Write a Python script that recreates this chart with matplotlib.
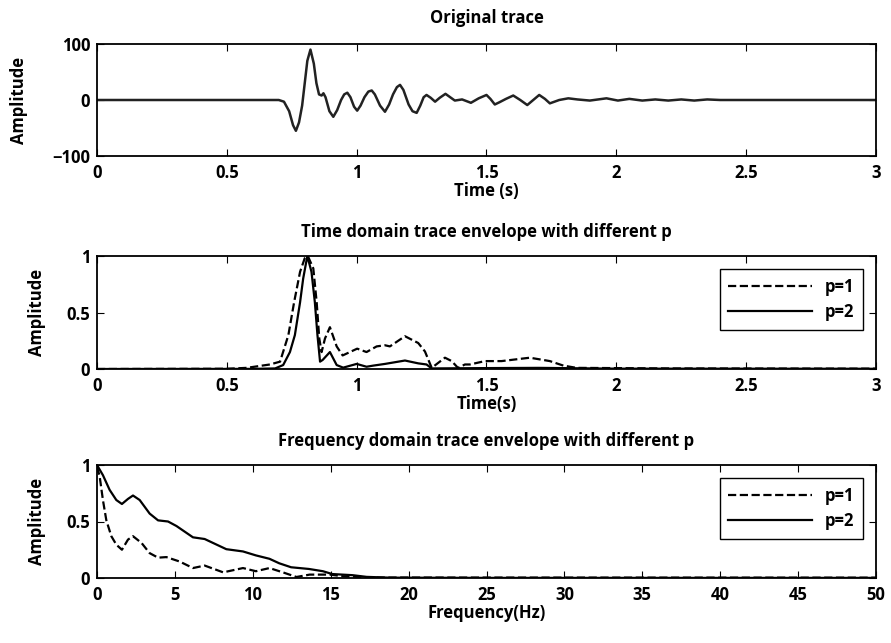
import matplotlib
matplotlib.use("Agg")
import matplotlib.pyplot as plt

plt.rcParams['font.family'] = ['Open Sans', 'DejaVu Sans']
plt.rcParams['font.weight'] = 'bold'
plt.rcParams['axes.labelweight'] = 'bold'
plt.rcParams['axes.titleweight'] = 'bold'
plt.rcParams['font.size'] = 12

# original trace (time in s, amplitude)
trace_t = [0, 0.70, 0.72, 0.74, 0.755, 0.766, 0.778, 0.79, 0.80, 0.81, 0.822, 0.835, 0.845,
           0.855, 0.865, 0.872, 0.88, 0.895, 0.91, 0.925, 0.94, 0.952, 0.964, 0.976, 0.99,
           1.002, 1.015, 1.03, 1.045, 1.058, 1.07, 1.09, 1.109, 1.125, 1.14, 1.155, 1.167,
           1.18, 1.20, 1.215, 1.231, 1.245, 1.258, 1.269, 1.285, 1.302, 1.32, 1.342, 1.36,
           1.378, 1.406, 1.44, 1.47, 1.50, 1.515, 1.532, 1.55, 1.575, 1.603, 1.63, 1.657,
           1.68, 1.703, 1.725, 1.744, 1.78, 1.815, 1.85, 1.898, 1.93, 1.962, 2.006, 2.05,
           2.10, 2.15, 2.20, 2.25, 2.30, 2.35, 2.40, 3.0]
trace_a = [0, 0, -3, -20, -45, -55, -40, -10, 30, 70, 90, 65, 30,
           10, 8, 12, 5, -20, -30, -18, 0, 10, 13, 5, -12,
           -19, -10, 5, 15, 17, 10, -10, -21, -8, 10, 23, 27,
           18, -8, -20, -23, -10, 5, 9, 4, -3, 4, 11, 5,
           -1, 1, -5, 3, 9, 2, -8, -4, 2, 8, 0, -9,
           0, 9, 2, -6, 0, 3, 1, -1, 1, 3, -1, 2,
           -1, 1, -1, 1, -1, 1, 0, 0]

# time domain envelopes
env_t1 = [0, 0.50, 0.576, 0.666, 0.705, 0.737, 0.759, 0.782, 0.80, 0.812, 0.833, 0.846,
          0.856, 0.865, 0.878, 0.897, 0.923, 0.946, 0.974, 1.002, 1.038, 1.077, 1.109,
          1.128, 1.186, 1.237, 1.263, 1.289, 1.34, 1.366, 1.39, 1.417, 1.436, 1.494,
          1.558, 1.667, 1.744, 1.796, 1.847, 2.2, 3.0]
env_p1 = [0, 0.002, 0.01, 0.04, 0.065, 0.30, 0.59, 0.86, 0.98, 1.0, 0.89, 0.59,
          0.27, 0.15, 0.27, 0.37, 0.20, 0.12, 0.15, 0.18, 0.15, 0.20, 0.21,
          0.20, 0.29, 0.23, 0.155, 0.01, 0.10, 0.07, 0.01, 0.04, 0.04, 0.07,
          0.07, 0.10, 0.07, 0.03, 0.01, 0.005, 0.003]
env_t2 = [0, 0.60, 0.686, 0.717, 0.743, 0.762, 0.782, 0.794, 0.81, 0.826, 0.839, 0.849,
          0.859, 0.869, 0.897, 0.923, 0.948, 1.0, 1.038, 1.064, 1.109, 1.186, 1.237,
          1.269, 1.289, 1.5, 1.7, 2.0, 3.0]
env_p2 = [0, 0.001, 0.005, 0.035, 0.15, 0.30, 0.59, 0.80, 1.0, 0.86, 0.59, 0.30,
          0.065, 0.08, 0.15, 0.035, 0.012, 0.045, 0.02, 0.03, 0.045, 0.075, 0.05,
          0.04, 0.005, 0.008, 0.01, 0.003, 0.002]

# frequency domain envelopes
freq1 = [0, 0.17, 0.38, 0.6, 0.92, 1.24, 1.6, 1.99, 2.31, 2.86, 3.38, 3.92, 4.45, 5.3,
         6.16, 6.91, 8.1, 9.37, 10.2, 11.07, 11.93, 12.8, 13.65, 14.95, 15.8, 18, 50]
fenv_p1 = [0.985, 0.90, 0.69, 0.51, 0.37, 0.295, 0.25, 0.34, 0.37, 0.31, 0.22, 0.18, 0.185,
           0.146, 0.088, 0.11, 0.05, 0.088, 0.06, 0.088, 0.05, 0.009, 0.03, 0.03, 0.015,
           0.004, 0.003]
freq2 = [0, 0.38, 0.81, 1.24, 1.6, 1.99, 2.31, 2.74, 3.38, 3.92, 4.56, 5.1, 6.16, 6.91, 8.3,
         9.37, 10.2, 11.07, 11.7, 12.46, 13.6, 14.5, 15.1, 16.4, 17.3, 18.8, 25, 50]
fenv_p2 = [1.0, 0.91, 0.78, 0.69, 0.655, 0.70, 0.73, 0.69, 0.57, 0.51, 0.50, 0.46, 0.36,
           0.345, 0.255, 0.235, 0.20, 0.17, 0.13, 0.095, 0.08, 0.06, 0.035, 0.025, 0.01,
           0.003, 0.001, 0.001]

fig = plt.figure(figsize=(8.91, 6.43), dpi=100)
left, width = 97 / 891, 779 / 891
ax1 = fig.add_axes([left, 1 - 156 / 643, width, 112 / 643])
ax2 = fig.add_axes([left, 1 - 369 / 643, width, 113 / 643])
ax3 = fig.add_axes([left, 1 - 578 / 643, width, 113 / 643])

FS = 12


def style(ax):
    ax.tick_params(direction='in', top=True, right=True, length=5, width=0.8,
                   labelsize=FS)
    ax.tick_params(axis='x', pad=6)
    ax.tick_params(axis='y', pad=5)
    for s in ax.spines.values():
        s.set_linewidth(1.3)


ax1.plot(trace_t, trace_a, color='#222222', lw=1.8)
ax1.set_xlim(0, 3)
ax1.set_ylim(-100, 100)
ax1.set_xticks([0, 0.5, 1, 1.5, 2, 2.5, 3], ['0', '0.5', '1', '1.5', '2', '2.5', '3'])
ax1.set_yticks([-100, 0, 100], ['\u2212100', '0', '100'])
ax1.set_title('Original trace', fontsize=FS, pad=15)
ax1.set_xlabel('Time (s)', fontsize=FS, labelpad=0)
ax1.set_ylabel('Amplitude', fontsize=FS)
ax1.yaxis.set_label_coords(-0.089, 0.5)
style(ax1)

ax2.plot(env_t1, env_p1, 'k--', lw=1.6, label='p=1')
ax2.plot(env_t2, env_p2, 'k-', lw=1.6, label='p=2')
ax2.set_xlim(0, 3)
ax2.set_ylim(0, 1)
ax2.set_xticks([0, 0.5, 1, 1.5, 2, 2.5, 3], ['0', '0.5', '1', '1.5', '2', '2.5', '3'])
ax2.set_yticks([0, 0.5, 1], ['0', '0.5', '1'])
ax2.set_title('Time domain trace envelope with different p', fontsize=FS, pad=14)
ax2.set_xlabel('Time(s)', fontsize=FS, labelpad=0)
ax2.set_ylabel('Amplitude', fontsize=FS)
ax2.yaxis.set_label_coords(-0.065, 0.5)
style(ax2)

ax3.plot(freq1, fenv_p1, 'k--', lw=1.6, label='p=1')
ax3.plot(freq2, fenv_p2, 'k-', lw=1.6, label='p=2')
ax3.set_xlim(0, 50)
ax3.set_ylim(0, 1)
ax3.set_xticks(range(0, 51, 5))
ax3.set_yticks([0, 0.5, 1], ['0', '0.5', '1'])
ax3.set_title('Frequency domain trace envelope with different p', fontsize=FS, pad=14)
ax3.set_xlabel('Frequency(Hz)', fontsize=FS, labelpad=0)
ax3.set_ylabel('Amplitude', fontsize=FS)
ax3.yaxis.set_label_coords(-0.065, 0.5)
style(ax3)

for ax in (ax2, ax3):
    leg = ax.legend(loc='upper right', fancybox=False, edgecolor='black',
                    handlelength=5.0, fontsize=FS, borderaxespad=0.8,
                    framealpha=1, labelspacing=0.45, borderpad=0.5)
    leg.get_frame().set_linewidth(1.0)

fig.savefig('out.png', dpi=100)
